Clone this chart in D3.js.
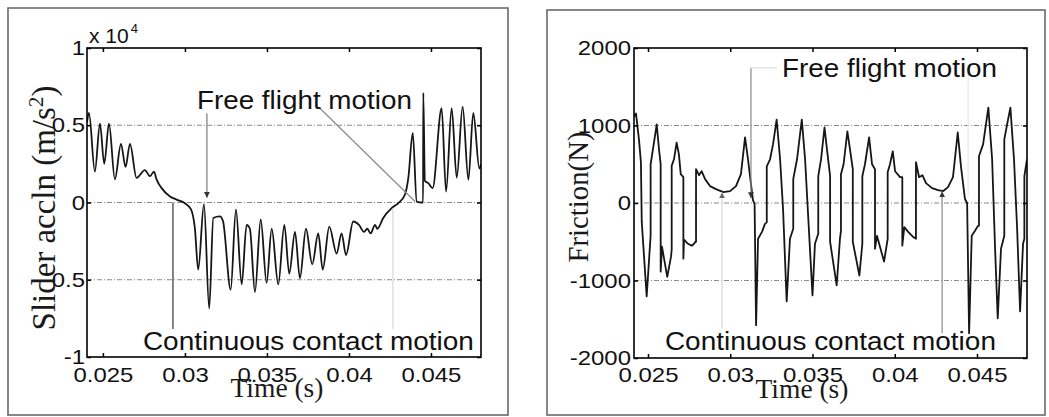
<!DOCTYPE html>
<html lang="en">
<head>
<meta charset="utf-8">
<title>Slider acceleration and friction</title>
<script src="https://d3js.org/d3.v7.min.js"></script>
<style>
  body { margin: 0; background: #fff; }
  svg { display: block; }
  .tick text { font-family: "Liberation Sans", Arial, sans-serif; font-size: 21px; fill: #111; }
  .tick line { stroke: #000; }
  .serif { font-family: "Liberation Serif", "Times New Roman", serif; fill: #1a1a1a; }
  .sans { font-family: "Liberation Sans", Arial, sans-serif; fill: #111; }
  .grid { stroke: #8a8a8a; stroke-width: 1; stroke-dasharray: 5,2,1,2; }
</style>
</head>
<body>
<script>
// tick labels
const timeTicks = [0.025, 0.03, 0.035, 0.04, 0.045];
const accTicks = [-1, -0.5, 0, 0.5, 1];
const fricTicks = [-2000, -1000, 0, 1000, 2000];

// slider acceleration, units of 10^4 m/s^2
const accTime = [0.02403, 0.02415, 0.02451, 0.02482, 0.02508, 0.02537, 0.02573, 0.02610, 0.02638, 0.02665,
  0.02705, 0.02756, 0.02787, 0.02811, 0.02827, 0.02858, 0.02909, 0.02949, 0.03000, 0.03037,
  0.03061, 0.03081, 0.03116, 0.03148, 0.03173, 0.03213, 0.03232, 0.03279, 0.03311, 0.03346,
  0.03376, 0.03396, 0.03427, 0.03462, 0.03498, 0.03529, 0.03569, 0.03606, 0.03636, 0.03671,
  0.03701, 0.03738, 0.03776, 0.03813, 0.03840, 0.03880, 0.03925, 0.03955, 0.03982, 0.04026,
  0.04061, 0.04092, 0.04112, 0.04132, 0.04159, 0.04173, 0.04209, 0.04260, 0.04301, 0.04341,
  0.04362, 0.04389, 0.04413, 0.04443, 0.04452, 0.04453, 0.04463, 0.04484, 0.04510, 0.04565,
  0.04592, 0.04626, 0.04657, 0.04693, 0.04728, 0.04758, 0.04795, 0.04805];
const accVal = [0.52, 0.58, 0.20, 0.51, 0.25, 0.51, 0.15, 0.38, 0.23, 0.38,
  0.16, 0.21, 0.17, 0.20, 0.15, 0.093, 0.039, 0.019, -0.005, -0.045,
  -0.17, -0.435, -0.01, -0.686, -0.10, -0.09, -0.12, -0.565, -0.045, -0.53,
  -0.145, -0.17, -0.58, -0.11, -0.52, -0.17, -0.53, -0.145, -0.46, -0.19,
  -0.49, -0.17, -0.40, -0.20, -0.435, -0.156, -0.33, -0.20, -0.34, -0.123,
  -0.145, -0.19, -0.17, -0.20, -0.145, -0.17, -0.10, -0.037, -0.004, 0.05,
  0.16, 0.45, 0.006, 0.0, 0.0, 0.71, 0.14, 0.125, 0.093, 0.61,
  0.07, 0.61, 0.16, 0.62, 0.147, 0.58, 0.22, 0.25];

// friction force, N
const fricTime = [0.02415, 0.02427, 0.02445, 0.02457, 0.02462, 0.02492, 0.02516, 0.02516, 0.02530, 0.02553,
  0.02567, 0.02577, 0.02577, 0.02585, 0.02617, 0.02640, 0.02644, 0.02644, 0.02658, 0.02674,
  0.02688, 0.02699, 0.02715, 0.02715, 0.02719, 0.02743, 0.02766, 0.02780, 0.02788, 0.02792,
  0.02792, 0.02810, 0.02826, 0.02847, 0.02877, 0.02913, 0.02958, 0.02999, 0.03035, 0.03065,
  0.03090, 0.03108, 0.03126, 0.03138, 0.03148, 0.03157, 0.03169, 0.03193, 0.03211, 0.03222,
  0.03222, 0.03242, 0.03260, 0.03282, 0.03303, 0.03321, 0.03343, 0.03363, 0.03383, 0.03383,
  0.03406, 0.03435, 0.03455, 0.03473, 0.03500, 0.03515, 0.03535, 0.03535, 0.03552, 0.03573,
  0.03588, 0.03607, 0.03607, 0.03647, 0.03667, 0.03673, 0.03673, 0.03689, 0.03712, 0.03728,
  0.03745, 0.03745, 0.03785, 0.03803, 0.03803, 0.03819, 0.03844, 0.03862, 0.03880, 0.03880,
  0.03892, 0.03935, 0.03957, 0.03957, 0.03971, 0.03988, 0.04002, 0.04032, 0.04046, 0.04046,
  0.04058, 0.04083, 0.04113, 0.04129, 0.04129, 0.04148, 0.04168, 0.04190, 0.04227, 0.04263,
  0.04295, 0.04324, 0.04354, 0.04383, 0.04403, 0.04427, 0.04440, 0.04452, 0.04468, 0.04488,
  0.04506, 0.04512, 0.04512, 0.04537, 0.04569, 0.04592, 0.04610, 0.04626, 0.04646, 0.04666,
  0.04666, 0.04683, 0.04703, 0.04725, 0.04744, 0.04762, 0.04780, 0.04788, 0.04788, 0.04804];
const fricVal = [1115, 1154, 820, 526, -244, -1205, -419, 500, 692, 1013,
  692, 500, -885, -564, -953, -692, -600, 479, 564, 778,
  628, 372, 333, -718, -474, -526, -551, -526, -500, -500,
  436, 359, 410, 308, 218, 179, 141, 154, 218, 372,
  846, 564, 244, 38, -13, -1577, -462, -372, -269, -250,
  474, 564, 756, 1077, 564, -77, -1269, -462, -333, 308,
  564, 1077, 564, -141, -1192, -526, -397, 346, 564, 974,
  692, 346, -500, -1064, -462, -359, 372, 500, 923, 692,
  436, -500, -936, -526, 346, 500, 846, 500, 436, -590,
  -423, -756, -462, 397, 500, 667, 410, 333, 333, -551,
  -312, -376, -440, -462, 526, 333, 359, 256, 192, 167,
  154, 205, 333, 910, 462, 51, 0, -1679, -423, -359,
  -295, -295, 603, 756, 1231, 564, -590, -1487, -590, -423,
  820, 1013, 1231, 564, -333, -1397, -526, -462, 346, 564];

// annotation pointer lines [t1, v1, t2, v2, colour, arrow]
const accNotes = [
  [0.03134, 0.578, 0.03134, 0.03, "#7a7a7a", true],
  [0.03823, 0.61, 0.04403, 0.0065, "#8a8a8a", false],
  [0.02927, 0.0, 0.02927, -0.818, "#333", false],
  [0.04268, -0.039, 0.04268, -0.818, "#d8d8d8", false]
];
const fricNotes = [
  [0.03126, 1744, 0.03126, 60, "#8a8a8a", true],
  [0.03126, 1744, 0.03284, 1744, "#e0e0e0", false],
  [0.04446, 1680, 0.04446, 80, "#e8e8e8", false],
  [0.02950, -1615, 0.02950, 137, "#d8d8d8", true],
  [0.04288, -1680, 0.04288, 150, "#8a8a8a", true]
];

const svg = d3.select("body").append("svg")
  .attr("width", 1049)
  .attr("height", 417);

const defs = svg.append("defs");

function stretch(sel, k) {
  sel.each(function() {
    const len = this.getComputedTextLength();
    d3.select(this).attr("textLength", len * k).attr("lengthAdjust", "spacingAndGlyphs");
  });
}

function fitFont(sel, target) {
  const len = sel.node().getComputedTextLength();
  const fs = parseFloat(sel.attr("font-size"));
  sel.attr("font-size", fs * target / len);
}

function drawPanel(o) {
  // outer frame
  svg.append("rect")
    .attr("x", o.frame[0]).attr("y", o.frame[1])
    .attr("width", o.frame[2]).attr("height", o.frame[3])
    .attr("fill", "none").attr("stroke", "#6a6a6a").attr("stroke-width", 1.6);

  const x = d3.scaleLinear().domain(o.xDomain).range([o.x0, o.x1]);
  const y = d3.scaleLinear().domain(o.yDomain).range([o.y1, o.y0]);

  const g = svg.append("g");

  // dotted grid
  g.selectAll(".grid")
    .data(o.yTicks.slice(1, -1))
    .enter()
    .append("line")
    .attr("class", "grid")
    .attr("x1", o.x0).attr("x2", o.x1)
    .attr("y1", d => y(d)).attr("y2", d => y(d));

  defs.append("clipPath").attr("id", o.id + "clip")
    .append("rect").attr("x", o.x0).attr("y", o.y0)
    .attr("width", o.x1 - o.x0).attr("height", o.y1 - o.y0);

  const line = d3.line()
    .x(d => x(d[0]))
    .y(d => y(d[1]))
    .curve(o.curve);

  g.append("path")
    .datum(d3.zip(o.time, o.vals))
    .attr("clip-path", `url(#${o.id}clip)`)
    .attr("fill", "none")
    .attr("stroke", "#161616")
    .attr("stroke-width", 1.8)
    .attr("stroke-linejoin", "round")
    .attr("d", line);

  // annotation pointers
  o.notes.forEach((n, i) => {
    const mid = o.id + "arrow" + i;
    if (n[5]) {
      defs.append("marker")
        .attr("id", mid)
        .attr("markerUnits", "userSpaceOnUse")
        .attr("markerWidth", 8).attr("markerHeight", 8)
        .attr("refX", 6).attr("refY", 3)
        .attr("orient", "auto")
        .append("path")
        .attr("d", "M0,0L6,3L0,6Z")
        .attr("fill", n[4] === "#d8d8d8" ? "#666" : "#333");
    }
    g.append("line")
      .attr("x1", x(n[0])).attr("y1", y(n[1]))
      .attr("x2", x(n[2])).attr("y2", y(n[3]))
      .attr("stroke", n[4])
      .attr("stroke-width", 1.2)
      .attr("marker-end", n[5] ? `url(#${mid})` : null);
  });

  // axes, MATLAB style inward ticks
  const gx = g.append("g")
    .attr("transform", `translate(0,${o.y1})`)
    .call(d3.axisBottom(x).tickValues(timeTicks).tickFormat(d => String(d))
      .tickSizeInner(-4).tickSizeOuter(0).tickPadding(o.xPad));
  const gy = g.append("g")
    .attr("transform", `translate(${o.x0},0)`)
    .call(d3.axisLeft(y).tickValues(o.yTicks).tickFormat(d => String(d))
      .tickSizeInner(-4).tickSizeOuter(0).tickPadding(o.yPad));
  g.append("g")
    .attr("transform", `translate(0,${o.y0})`)
    .call(d3.axisTop(x).tickValues(timeTicks).tickFormat("")
      .tickSizeInner(-4).tickSizeOuter(0));
  g.append("g")
    .attr("transform", `translate(${o.x1},0)`)
    .call(d3.axisRight(y).tickValues(o.yTicks).tickFormat("")
      .tickSizeInner(-4).tickSizeOuter(0));
  g.selectAll(".domain").remove();
  g.selectAll(".tick line").attr("stroke-width", 1.5);
  stretch(gx.selectAll("text"), 1.14);
  stretch(gy.selectAll("text"), 1.14);

  g.append("rect")
    .attr("x", o.x0).attr("y", o.y0)
    .attr("width", o.x1 - o.x0).attr("height", o.y1 - o.y0)
    .attr("fill", "none").attr("stroke", "#000").attr("stroke-width", 1.6);

  // annotation text
  svg.append("text").attr("class", "sans")
    .attr("x", x(o.ffPos[0])).attr("y", y(o.ffPos[1]))
    .attr("font-size", 25)
    .attr("textLength", 215).attr("lengthAdjust", "spacingAndGlyphs")
    .text("Free flight motion");
  svg.append("text").attr("class", "sans")
    .attr("x", x(o.ccPos[0])).attr("y", y(o.ccPos[1]))
    .attr("font-size", 25)
    .attr("textLength", 331).attr("lengthAdjust", "spacingAndGlyphs")
    .text("Continuous contact motion");

  // axis titles
  const xt = svg.append("text").attr("class", "serif")
    .attr("x", o.xTitle[0]).attr("y", o.xTitle[1])
    .attr("text-anchor", "middle")
    .attr("font-size", 27)
    .text("Time (s)");
  fitFont(xt, 93);

  const yt = svg.append("text").attr("class", "serif")
    .attr("transform", `translate(${o.yTitle[0]},${o.yTitle[1]}) rotate(-90)`)
    .attr("text-anchor", "middle")
    .attr("font-size", 28);
  o.yLabel(yt);
  fitFont(yt, o.yTitle[2]);
}

drawPanel({
  id: "acc",
  frame: [8, 8, 500, 407],
  x0: 87, x1: 481, y0: 48, y1: 357,
  xDomain: [0.02403, 0.04805],
  yDomain: [-1, 1],
  yTicks: accTicks,
  time: accTime, vals: accVal,
  curve: d3.curveMonotoneX,
  notes: accNotes,
  xPad: 10, yPad: 2,
  ffPos: [0.03073, 0.604],
  ccPos: [0.02744, -0.955],
  xTitle: [277, 397],
  yTitle: [55, 208, 245],
  yLabel: t => {
    t.append("tspan").text("Slider accln (m/s");
    t.append("tspan").attr("font-size", "0.65em").attr("baseline-shift", "super").text("2");
    t.append("tspan").text(")");
  }
});

drawPanel({
  id: "fric",
  frame: [547, 10, 498, 405],
  x0: 634, x1: 1027, y0: 48, y1: 358,
  xDomain: [0.024149, 0.04804],
  yDomain: [-2000, 2000],
  yTicks: fricTicks,
  time: fricTime, vals: fricVal,
  curve: d3.curveLinear,
  notes: fricNotes,
  xPad: 9, yPad: 3,
  ffPos: [0.03315, 1628],
  ccPos: [0.02603, -1897],
  xTitle: [802, 398],
  yTitle: [588, 197, 131],
  yLabel: t => t.text("Friction(N)")
});

// exponent label of the acceleration axis
const expo = svg.append("text").attr("class", "sans")
  .attr("x", 89).attr("y", 43)
  .attr("font-size", 21);
expo.append("tspan").text("x 10");
expo.append("tspan").attr("font-size", 13).attr("dy", -10).attr("dx", 2).text("4");
</script>
</body>
</html>
